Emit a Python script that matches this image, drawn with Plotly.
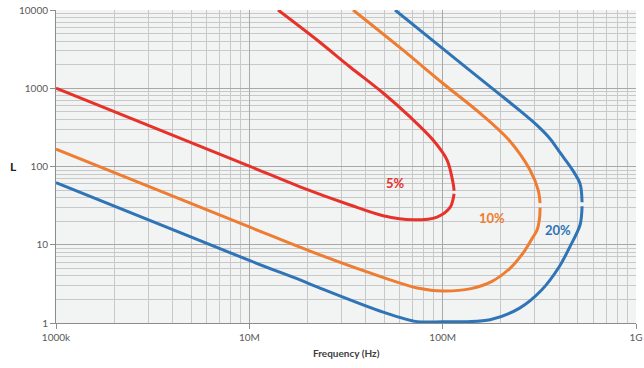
import math
import plotly.graph_objects as go

# ---- data (frequency in Hz, L values) ----
red_lower_f = [1e6, 10e6, 18.3e6, 33.2e6, 49.2e6, 70.3e6, 93.5e6, 109.2e6, 114.6e6]
red_lower_L = [1000, 101, 55, 32.2, 23.5, 20.8, 22.6, 30, 45]
red_upper_f = [114.6e6, 113.2e6, 105.4e6, 89.2e6, 67.8e6, 49.2e6, 33.2e6, 22.4e6, 14.08e6]
red_upper_L = [49, 61.5, 121, 218, 430, 869, 1870, 4140, 10000]

orange_lower_f = [1e6, 10e6, 20.6e6, 40.6e6, 73.8e6, 100e6, 140e6, 180e6, 223e6, 262e6, 290e6, 308e6, 317e6, 319e6]
orange_lower_L = [167, 16.9, 8.3, 4.5, 2.8, 2.57, 2.75, 3.4, 5.0, 8.0, 12, 15.5, 22, 30]
orange_upper_f = [319e6, 312e6, 283e6, 223e6, 161.8e6, 100.5e6, 60.2e6, 34.4e6]
orange_upper_L = [34, 50, 90, 210, 445, 1150, 3300, 10000]

blue_lower_f = [1e6, 10e6, 18.3e6, 22.4e6, 49.2e6, 74e6, 100e6, 134e6, 176e6, 250e6, 325e6, 400e6, 455e6, 514e6, 526e6]
blue_lower_L = [62, 6.3, 3.55, 2.9, 1.38, 1.04, 1.04, 1.04, 1.1, 1.55, 2.64, 5.2, 9.4, 18, 31]
blue_upper_f = [526e6, 514e6, 470e6, 405e6, 360e6, 308e6, 250e6, 198e6, 100.5e6, 56.7e6]
blue_upper_L = [35, 60, 90, 150, 225, 335, 520, 830, 3180, 10000]

x_tickvals = [1e6, 1e7, 1e8, 1e9]
x_ticktext = ["1000k", "10M", "100M", "1G"]
y_tickvals = [1, 10, 100, 1000, 10000]
y_ticktext = ["1", "10", "100", "1000", "10000"]

labels = ["5%", "10%", "20%"]
label_f = [56.7e6, 180e6, 395e6]
label_L = [61.5, 22, 15.4]

RED = "#e7322a"
ORANGE = "#ee7d31"
BLUE = "#2e74b6"

fig = go.Figure()
series = [
    (red_lower_f, red_lower_L, RED), (red_upper_f, red_upper_L, RED),
    (orange_lower_f, orange_lower_L, ORANGE), (orange_upper_f, orange_upper_L, ORANGE),
    (blue_lower_f, blue_lower_L, BLUE), (blue_upper_f, blue_upper_L, BLUE),
]
for fx, ly, c in series:
    fig.add_trace(go.Scatter(x=fx, y=ly, mode="lines",
                             line=dict(color=c, width=3, shape="spline", smoothing=0.9),
                             showlegend=False, hoverinfo="skip"))

for t, fx, ly, c in zip(labels, label_f, label_L, [RED, ORANGE, BLUE]):
    fig.add_annotation(x=math.log10(fx), y=math.log10(ly), xref="x", yref="y",
                       text="<b>%s</b>" % t, showarrow=False,
                       font=dict(family="Lato", size=13, color=c))

fig.add_annotation(x=0.5, y=-0.096, xref="paper", yref="paper", text="<b>Frequency (Hz)</b>",
                   showarrow=False, yanchor="middle", font=dict(family="Lato", size=10, color="#404040"))
fig.add_annotation(x=-0.083, y=0.5, xref="paper", yref="paper", text="<b>L</b>",
                   showarrow=False, font=dict(family="Lato", size=12, color="#202020"))

grid_major = "#a8a8a8"
grid_minor = "#c8c8c8"

fig.update_xaxes(type="log", range=[6, 9], tickvals=x_tickvals, ticktext=x_ticktext,
                 automargin=False, ticklabeloverflow="allow",
                 showgrid=True, gridcolor=grid_major, gridwidth=1,
                 minor=dict(dtick="D1", showgrid=True, gridcolor=grid_minor, gridwidth=1, ticks=""),
                 showline=True, linecolor="#8c8c8c", linewidth=1, mirror=False,
                 ticks="outside", ticklen=5, tickcolor="#8c8c8c",
                 tickfont=dict(family="Lato", size=10, color="#595959"), zeroline=False)
fig.update_yaxes(type="log", range=[0, 4], tickvals=y_tickvals, ticktext=y_ticktext,
                 automargin=False, ticklabeloverflow="allow",
                 showgrid=True, gridcolor=grid_major, gridwidth=1,
                 minor=dict(dtick="D1", showgrid=True, gridcolor=grid_minor, gridwidth=1, ticks=""),
                 showline=True, linecolor="#8c8c8c", linewidth=1,
                 ticks="outside", ticklen=5, tickcolor="#8c8c8c",
                 tickfont=dict(family="Lato", size=10, color="#595959"), zeroline=False)

fig.update_layout(width=644, height=368, margin=dict(l=56, r=8, t=10, b=45, autoexpand=False),
                  paper_bgcolor="white", plot_bgcolor="#f2f3f3")

# remove the page's default body margin so the figure fills the window exactly
fig.write_html("out.html", config={"displayModeBar": False},
               post_script="document.body.style.margin='0';")
